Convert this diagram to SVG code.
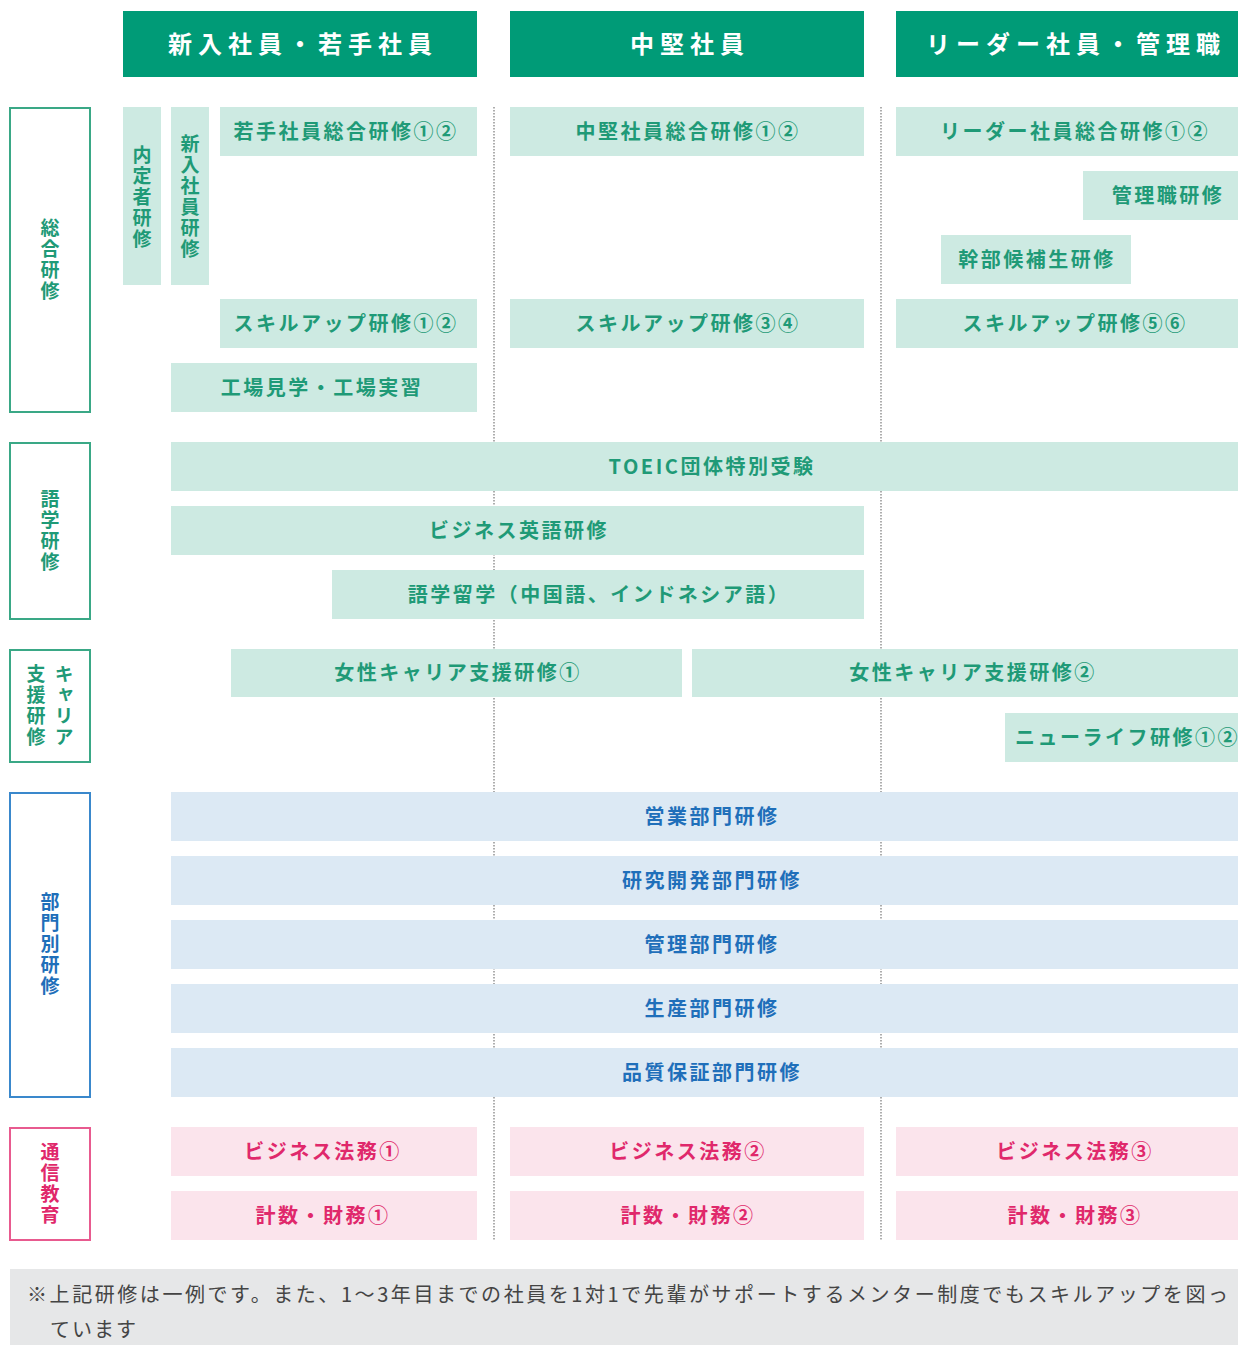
<svg xmlns="http://www.w3.org/2000/svg" width="1238" height="1345" viewBox="0 0 1238 1345">
<style>
text{font-family:"Noto Sans CJK JP","Noto Sans CJK SC",sans-serif;font-weight:700}
.hd{fill:#009b77}
.hdt{fill:#fff;font-size:24px;letter-spacing:6px;text-anchor:middle}
.g{fill:#cdeae2}
.gt{fill:#1f9a77;font-size:20px;letter-spacing:2.5px;text-anchor:middle}
.b{fill:#dce9f4}
.bt{fill:#1f6fba;font-size:20px;letter-spacing:2.5px;text-anchor:middle}
.p{fill:#fbe4ec}
.pt{fill:#e0286b;font-size:20px;letter-spacing:2.5px;text-anchor:middle}
.cg{fill:#fff;stroke:#3aa886;stroke-width:2}
.cb{fill:#fff;stroke:#3a88cc;stroke-width:2}
.cp{fill:#fff;stroke:#e85a8f;stroke-width:2}
.vt{font-size:19px;letter-spacing:2px;text-anchor:middle;writing-mode:vertical-rl}
.vg{fill:#1f9a77}
.vb{fill:#1f6fba}
.vp{fill:#e0286b}
.dot{stroke:#9a9a9a;stroke-width:1.6;stroke-dasharray:1.5 1.5;fill:none}
</style>
<rect width="1238" height="1345" fill="#fff"/>
<g id="connectors">
<line class="dot" x1="494" y1="107" x2="494" y2="1240"/>
<line class="dot" x1="881" y1="107" x2="881" y2="1240"/>
</g>
<g id="header-1"><rect class="hd" x="123" y="11" width="354" height="66"/><text class="hdt" x="303" y="53">新入社員・若手社員</text></g>
<g id="header-2"><rect class="hd" x="510" y="11" width="354" height="66"/><text class="hdt" x="690" y="53">中堅社員</text></g>
<g id="header-3"><rect class="hd" x="896" y="11" width="342" height="66"/><text class="hdt" x="1076" y="53">リーダー社員・管理職</text></g>

<g id="cat-sogo"><rect class="cg" x="10" y="108" width="80" height="304"/><text class="vt vg" x="50" y="260">総合研修</text></g>
<g id="cat-gogaku"><rect class="cg" x="10" y="443" width="80" height="176"/><text class="vt vg" x="50" y="531">語学研修</text></g>
<g id="cat-career"><rect class="cg" x="10" y="650" width="80" height="112"/><text class="vt vg" x="64" y="706">キャリア</text><text class="vt vg" x="36" y="706">支援研修</text></g>
<g id="cat-bumon"><rect class="cb" x="10" y="793" width="80" height="304"/><text class="vt vb" x="50" y="945">部門別研修</text></g>
<g id="cat-tsushin"><rect class="cp" x="10" y="1128" width="80" height="112"/><text class="vt vp" x="50" y="1184">通信教育</text></g>

<g id="naitei"><rect class="g" x="123" y="107" width="38" height="178"/><text class="vt vg" x="142" y="198">内定者研修</text></g>
<g id="shinnyu"><rect class="g" x="171" y="107" width="38" height="178"/><text class="vt vg" x="190" y="197">新入社員研修</text></g>

<g id="wakate"><rect class="g" x="220" y="107" width="257" height="49"/><text class="gt" x="346" y="139">若手社員総合研修①②</text></g>
<g id="chuken"><rect class="g" x="510" y="107" width="354" height="49"/><text class="gt" x="688" y="139">中堅社員総合研修①②</text></g>
<g id="leader"><rect class="g" x="896" y="107" width="342" height="49"/><text class="gt" x="1075" y="139">リーダー社員総合研修①②</text></g>
<g id="kanrishoku"><rect class="g" x="1083" y="171" width="155" height="49"/><text class="gt" x="1168" y="203">管理職研修</text></g>
<g id="kanbu"><rect class="g" x="941" y="235" width="190" height="49"/><text class="gt" x="1037" y="267">幹部候補生研修</text></g>
<g id="skill12"><rect class="g" x="220" y="299" width="257" height="49"/><text class="gt" x="346" y="331">スキルアップ研修①②</text></g>
<g id="skill34"><rect class="g" x="510" y="299" width="354" height="49"/><text class="gt" x="688" y="331">スキルアップ研修③④</text></g>
<g id="skill56"><rect class="g" x="896" y="299" width="342" height="49"/><text class="gt" x="1075" y="331">スキルアップ研修⑤⑥</text></g>
<g id="kojo"><rect class="g" x="171" y="363" width="306" height="49"/><text class="gt" x="322" y="395">工場見学・工場実習</text></g>

<g id="toeic"><rect class="g" x="171" y="442" width="1067" height="49"/><text class="gt" x="712" y="474">TOEIC団体特別受験</text></g>
<g id="bizeng"><rect class="g" x="171" y="506" width="693" height="49"/><text class="gt" x="519" y="538">ビジネス英語研修</text></g>
<g id="ryugaku"><rect class="g" x="332" y="570" width="532" height="49"/><text class="gt" x="599" y="602">語学留学（中国語、インドネシア語）</text></g>

<g id="josei1"><rect class="g" x="231" y="649" width="451" height="48"/><text class="gt" x="458" y="680">女性キャリア支援研修①</text></g>
<g id="josei2"><rect class="g" x="692" y="649" width="546" height="48"/><text class="gt" x="973" y="680">女性キャリア支援研修②</text></g>
<g id="newlife"><rect class="g" x="1005" y="713" width="233" height="49"/><text class="gt" x="1015" y="745" style="text-anchor:start">ニューライフ研修①②</text></g>

<g id="eigyo"><rect class="b" x="171" y="792" width="1067" height="49"/><text class="bt" x="712" y="824">営業部門研修</text></g>
<g id="kenkyu"><rect class="b" x="171" y="856" width="1067" height="49"/><text class="bt" x="712" y="888">研究開発部門研修</text></g>
<g id="kanri"><rect class="b" x="171" y="920" width="1067" height="49"/><text class="bt" x="712" y="952">管理部門研修</text></g>
<g id="seisan"><rect class="b" x="171" y="984" width="1067" height="49"/><text class="bt" x="712" y="1016">生産部門研修</text></g>
<g id="hinshitsu"><rect class="b" x="171" y="1048" width="1067" height="49"/><text class="bt" x="712" y="1080">品質保証部門研修</text></g>

<g id="homu1"><rect class="p" x="171" y="1127" width="306" height="49"/><text class="pt" x="323" y="1159">ビジネス法務①</text></g>
<g id="homu2"><rect class="p" x="510" y="1127" width="354" height="49"/><text class="pt" x="688" y="1159">ビジネス法務②</text></g>
<g id="homu3"><rect class="p" x="896" y="1127" width="342" height="49"/><text class="pt" x="1075" y="1159">ビジネス法務③</text></g>
<g id="keisu1"><rect class="p" x="171" y="1191" width="306" height="49"/><text class="pt" x="323" y="1223">計数・財務①</text></g>
<g id="keisu2"><rect class="p" x="510" y="1191" width="354" height="49"/><text class="pt" x="688" y="1223">計数・財務②</text></g>
<g id="keisu3"><rect class="p" x="896" y="1191" width="342" height="49"/><text class="pt" x="1075" y="1223">計数・財務③</text></g>

<g id="footnote"><rect x="10" y="1269" width="1228" height="76" fill="#e6e7e8"/>
<text x="27" y="1302" fill="#444" style="font-weight:400;font-size:20px" textLength="1201" lengthAdjust="spacing">※上記研修は一例です。また、1～3年目までの社員を1対1で先輩がサポートするメンター制度でもスキルアップを図っ</text>
<text x="50" y="1337" fill="#444" style="font-weight:400;font-size:20px;letter-spacing:2px">ています</text></g>
</svg>
